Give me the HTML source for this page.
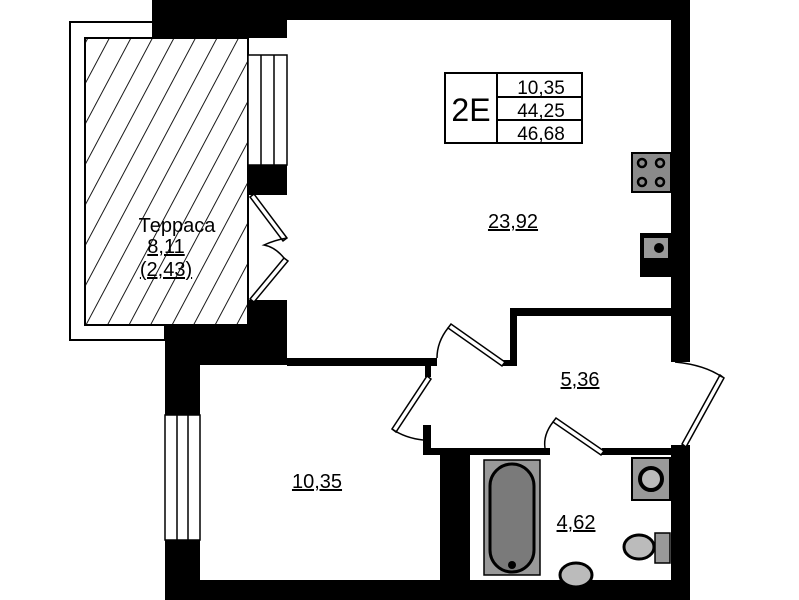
<!DOCTYPE html>
<html><head><meta charset="utf-8"><style>
html,body{margin:0;padding:0;background:#fff;width:799px;height:600px;overflow:hidden}
svg{display:block}
text{font-family:"Liberation Sans",sans-serif;fill:#000}
</style></head><body>
<svg width="799" height="600" viewBox="0 0 799 600" xmlns="http://www.w3.org/2000/svg">
<defs>
<pattern id="h" patternUnits="userSpaceOnUse" width="19" height="19" patternTransform="rotate(28)">
<line x1="0" y1="0" x2="0" y2="19" stroke="#000" stroke-width="1.8"/>
</pattern>
</defs>
<!-- terrace -->
<rect x="70" y="22" width="95" height="318" fill="#fff" stroke="#000" stroke-width="2"/>
<rect x="85" y="38" width="163" height="287" fill="#fff" stroke="#000" stroke-width="2"/>
<rect x="85" y="38" width="163" height="287" fill="url(#h)" stroke="#000" stroke-width="2"/>
<!-- walls -->
<g fill="#000">
<rect x="152" y="0" width="538" height="20"/>
<rect x="152" y="0" width="135" height="38"/>
<rect x="671" y="0" width="19" height="362"/>
<rect x="671" y="445" width="19" height="155"/>
<rect x="165" y="580" width="525" height="20"/>
<rect x="165" y="325" width="35" height="275"/>
<rect x="248" y="165" width="39" height="30"/>
<rect x="248" y="300" width="39" height="60"/>
<rect x="165" y="325" width="122" height="40"/>
<rect x="287" y="358" width="150" height="8"/>
<rect x="510" y="308" width="170" height="8"/>
<rect x="510" y="308" width="7" height="58"/>
<rect x="503" y="360" width="14" height="6"/>
<rect x="425" y="366" width="6" height="11"/>
<rect x="423" y="425" width="8" height="30"/>
<rect x="423" y="448" width="127" height="7"/>
<rect x="602" y="448" width="75" height="7"/>
<rect x="440" y="455" width="30" height="145"/>
</g>
<!-- windows -->
<g fill="#fff" stroke="#000" stroke-width="1.5">
<rect x="248" y="55" width="39" height="110"/>
<rect x="165" y="415" width="35" height="125"/>
</g>
<g stroke="#000" stroke-width="1.5">
<line x1="261" y1="55" x2="261" y2="165"/><line x1="274" y1="55" x2="274" y2="165"/>
<line x1="177" y1="415" x2="177" y2="540"/><line x1="188" y1="415" x2="188" y2="540"/>
</g>
<!-- doors -->
<g fill="#fff" stroke="#000" stroke-width="1.5">
<polygon points="250,197 254,194 287,238 283,241"/>
<polygon points="284,258 288,261 254,302 250,299"/>
<polygon points="448,328 451,324 505,362 502,366"/>
<polygon points="427,376 431,379 396,432 392,429"/>
<polygon points="553,422 556,418 604,451 601,455"/>
<polygon points="720,375 724,378 686,447 682,444"/>
</g>
<g fill="none" stroke="#000" stroke-width="1.5">
<path d="M287,238 Q275,240 264,245 Q275,247 284,258"/>
<path d="M448,328 Q437,342 437,358"/>
<path d="M392,429 Q405,438 423,440"/>
<path d="M553,422 Q543,435 545,448"/>
<path d="M675,362 Q705,365 722,377"/>
</g>
<!-- kitchen -->
<rect x="632" y="153" width="39" height="39" fill="#8a8a8a" stroke="#000" stroke-width="2"/>
<g fill="none" stroke="#000" stroke-width="2.5">
<circle cx="642" cy="163" r="4"/><circle cx="660" cy="163" r="4"/>
<circle cx="642" cy="182" r="4"/><circle cx="660" cy="182" r="4"/>
</g>
<rect x="640" y="233" width="31" height="44" fill="#000"/>
<rect x="644" y="238" width="24" height="20" fill="#999"/>
<circle cx="659" cy="248" r="5" fill="#000"/>
<!-- bathroom -->
<rect x="484" y="460" width="56" height="115" fill="#999" stroke="#000" stroke-width="1.5"/>
<rect x="490" y="464" width="44" height="108" rx="22" fill="#7a7a7a" stroke="#000" stroke-width="3"/>
<circle cx="512" cy="565" r="4" fill="#000"/>
<rect x="632" y="458" width="38" height="42" fill="#999" stroke="#000" stroke-width="2"/>
<circle cx="651" cy="479" r="11" fill="#bbb" stroke="#000" stroke-width="4"/>
<rect x="655" y="533" width="15" height="30" fill="#999" stroke="#000" stroke-width="1.5"/>
<ellipse cx="639" cy="547" rx="15" ry="12" fill="#bbb" stroke="#000" stroke-width="3"/>
<ellipse cx="576" cy="575" rx="16" ry="12" fill="#bbb" stroke="#000" stroke-width="3"/>
<!-- legend box -->
<g fill="#fff" stroke="#000" stroke-width="2">
<rect x="445" y="73" width="137" height="70"/>
<line x1="497" y1="73" x2="497" y2="143"/>
<line x1="497" y1="97" x2="582" y2="97"/>
<line x1="497" y1="120" x2="582" y2="120"/>
</g>
<text x="471" y="121" font-size="32" text-anchor="middle">2E</text>
<g font-size="19" text-anchor="middle">
<text x="541" y="94">10,35</text>
<text x="541" y="117">44,25</text>
<text x="541" y="140">46,68</text>
</g>
<!-- labels -->
<g font-size="20" text-anchor="middle" text-decoration="underline">
<text x="513" y="228">23,92</text>
<text x="580" y="386">5,36</text>
<text x="317" y="488">10,35</text>
<text x="576" y="529">4,62</text>
</g>
<g font-size="20" text-anchor="middle">
<text x="177" y="232">Терраса</text>
<text x="166" y="253" text-decoration="underline">8,11</text>
<text x="166" y="276" text-decoration="underline">(2,43)</text>
</g>
</svg>
</body></html>
